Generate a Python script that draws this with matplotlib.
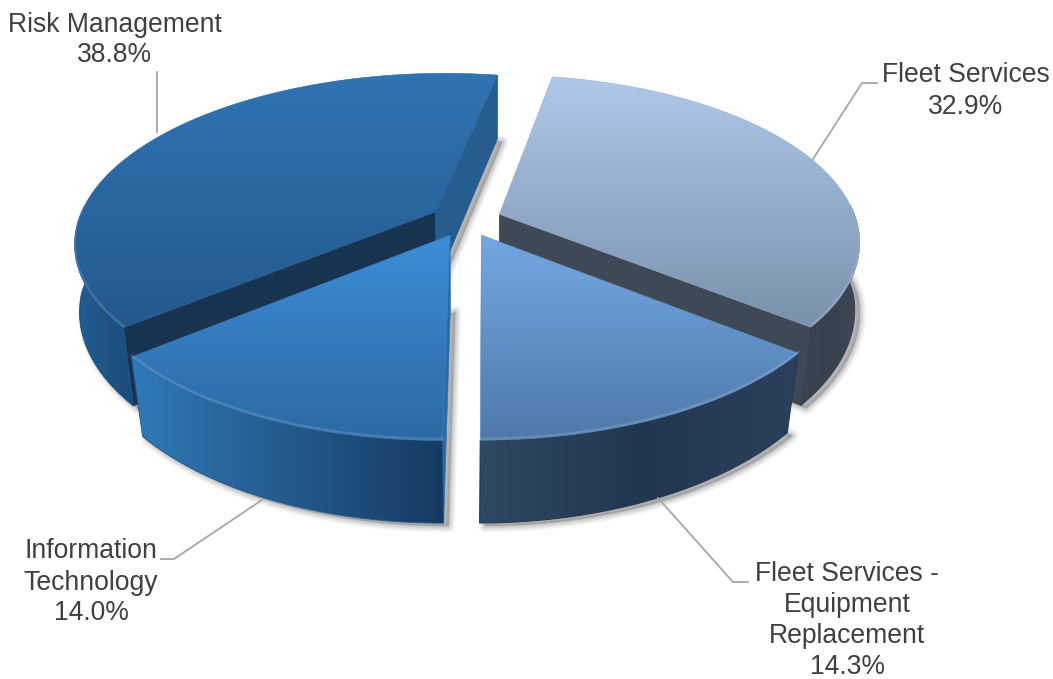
import numpy as np
import matplotlib
matplotlib.use("Agg")
import matplotlib.pyplot as plt
from matplotlib.colors import LinearSegmentedColormap
from matplotlib.patches import Polygon

plt.rcParams['font.family'] = ['Liberation Sans', 'DejaVu Sans']

# Budget shares, clockwise from the first slice
categories = ["Fleet Services", "Fleet Services -\nEquipment\nReplacement",
              "Information\nTechnology", "Risk Management"]
shares = [32.9, 14.3, 14.0, 38.8]

# Face colours per slice: top gradient (far to near), cut faces, outer wall (left to right)
top_colours = [("#B0C8EA", "#7A91AD"), ("#74A8E4", "#4E79AA"),
               ("#3D8DD6", "#2C69A4"), ("#3074B3", "#24588D")]
cut_colours = [("#3F4955", "#363F4B"), ("#2E4561", "#2E4561"),
               ("#2A6CA8", "#2A6CA8"), ("#275C8E", "#173350")]
wall_colours = [("#3A4552", "#38424E", "#3E4955"),
                ("#2F4865", "#223650", "#2B405C"),
                ("#2F7AB9", "#235A8D", "#153A60"),
                ("#215E96", "#1F5485", "#1B4C7A")]

# Label placement and leader polylines, in canvas pixels
label_centres = [(966, 91), (847, 620.5), (91, 582.5), (115, 40)]
leaders = [[(877, 83), (862, 83), (813, 159)],
           [(658, 498), (733, 582), (748, 582)],
           [(262, 500), (174, 559), (161, 559)],
           [(157, 72), (157, 132)]]

WIDTH, HEIGHT = 1053, 679
CX, CY, RADIUS, DEPTH_SCALE, PERSPECTIVE, SKEW = 466, 220, 357, 0.461, 0.17, 5
EXPLODE, START_ANGLE = 0.10, 10.0


def project(px, py):
    """Map pie-plane coordinates (py towards the far side) onto the canvas."""
    near = -np.asarray(py, float)
    s = 1 / (1 - PERSPECTIVE * near)
    return CX - SKEW * near + px * RADIUS * s, CY + near * RADIUS * DEPTH_SCALE * s, near


def lowered(pts, near):
    """Drop top-face points to the base; nearer walls converge towards the centre."""
    pts = np.atleast_2d(pts)
    near = np.atleast_1d(near)
    taper = 0.008 + 0.035 * np.clip(near, 0, None)
    return np.column_stack([pts[:, 0] + (CX - pts[:, 0]) * taper, pts[:, 1] + 73 + 9 * near])


def gradient_fill(ax, pts, colours, vertical, z, edge_lw=0.4):
    pts = np.asarray(pts)
    cmap = LinearSegmentedColormap.from_list("face", colours)
    ramp = np.linspace(0, 1, 256)
    data = ramp[:, None] if vertical else ramp[None, :]
    x0, y0 = pts.min(axis=0)
    x1, y1 = pts.max(axis=0)
    im = ax.imshow(data, cmap=cmap, extent=(x0 - 1, x1 + 1, y1 + 1, y0 - 1), origin="upper",
                   aspect="auto", interpolation="bilinear", zorder=z)
    clip = Polygon(pts, closed=True, transform=ax.transData)
    im.set_clip_path(clip)
    # soften the hard clip edge with a thin stroke of the face colour
    ax.add_patch(Polygon(pts, closed=True, fill=False, ec=cmap(0.5), lw=edge_lw, zorder=z))


fig = plt.figure(figsize=(WIDTH / 100, HEIGHT / 100), dpi=100)
ax = fig.add_axes([0, 0, 1, 1])

fractions = np.array(shares) / sum(shares)
spans = fractions * 360
starts = START_ANGLE + np.concatenate(([0], np.cumsum(spans)[:-1]))

slices = []
for start, span in zip(starts, spans):
    mid = np.radians(start + span / 2)
    ox, oy = EXPLODE * np.sin(mid), EXPLODE * np.cos(mid)
    theta = np.radians(np.linspace(start, start + span, 180))
    rx, ry, rn = project(ox + np.sin(theta), oy + np.cos(theta))
    ax_, ay_, an_ = project(np.array([ox]), np.array([oy]))
    slices.append(dict(rim=np.column_stack([rx, ry]), rim_n=rn,
                       apex=np.array([ax_[0], ay_[0]]), apex_n=an_[0]))

# Soft shadow cast by the base of each slice
for sl in slices:
    base = np.vstack([lowered(sl["apex"], sl["apex_n"]), lowered(sl["rim"], sl["rim_n"])])
    base = base + [5, 3]
    for lw, alpha in zip((9, 7, 5, 3, 1), (0.06, 0.08, 0.10, 0.12, 0.14)):
        ax.add_patch(Polygon(base, closed=True, fc="#707070", ec="#707070", lw=lw,
                             alpha=alpha, joinstyle="round", zorder=1))

# Paint far slices first so nearer ones overlap them
z = 2
for i in (3, 0, 2, 1):
    sl = slices[i]
    rim, rim_n, apex, apex_n = sl["rim"], sl["rim_n"], sl["apex"], sl["apex_n"]
    rim_mid = rim[len(rim) // 2] - apex

    for end, colour in ((0, cut_colours[i][1]), (-1, cut_colours[i][0])):
        edge = rim[end] - apex
        faces_out = np.sign(edge[0]) * np.sign(edge[0] * rim_mid[1] - edge[1] * rim_mid[0]) < 0
        if faces_out:
            quad = np.vstack([apex, rim[end], lowered(rim[end], rim_n[end]), lowered(apex, apex_n)])
            ax.add_patch(Polygon(quad, closed=True, fc=colour, ec=colour, lw=0.5, zorder=z))
    z += 1

    # outer wall, only along the part of the rim that turns towards the viewer
    front = rim_n > -0.1
    arc = rim[front]
    arc_low = lowered(arc, rim_n[front])
    gradient_fill(ax, np.vstack([arc, arc_low[::-1]]), wall_colours[i], False, z, edge_lw=0.7)
    z += 1

    top = np.vstack([apex, rim])
    gradient_fill(ax, top, top_colours[i], True, z)
    z += 1
    # faint bevel along the same stretch of rim
    ax.plot(arc[:, 0], arc[:, 1] - 1.5, color="white", alpha=0.13, lw=1.8, zorder=z)
    z += 1

for share, name, (lx, ly), path in zip(shares, categories, label_centres, leaders):
    xs, ys = zip(*path)
    ax.plot(xs, ys, color="#A6A6A6", lw=1.3, zorder=z, solid_joinstyle="miter")
    ax.text(lx, ly, f"{name}\n{share:.1f}%", ha="center", va="center", fontsize=19.1,
            color="#404040", linespacing=1.25, zorder=z + 1)

ax.set_xlim(0, WIDTH)
ax.set_ylim(HEIGHT, 0)
ax.axis("off")
fig.savefig("out.png", dpi=100, facecolor="white")
